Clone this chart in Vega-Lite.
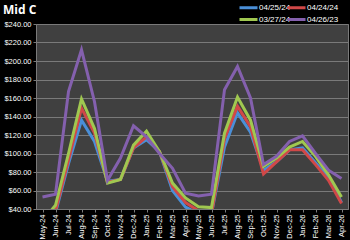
{
  "$schema": "https://vega.github.io/schema/vega-lite/v6.json",
  "width": 312,
  "height": 185,
  "autosize": {"type": "none"},
  "padding": {"left": 36, "top": 24, "right": 2, "bottom": 31},
  "background": "#000000",
  "title": {"text": "Mid C", "anchor": "start", "frame": "group", "dx": -33, "offset": 0, "dy": 15, "color": "#ffffff", "fontSize": 12, "font": "Open Sans", "fontWeight": "bold"},
  "config": {
    "view": {"fill": "#404040", "stroke": "#7a7a7a", "strokeWidth": 1},
    "axis": {"labelFont": "Liberation Sans", "labelColor": "#ffffff", "labelFontSize": 7.5, "domainColor": "#7a7a7a", "tickColor": "#7a7a7a", "gridColor": "#7a7a7a", "tickSize": 3, "labelPadding": 2, "title": null}
  },
  "data": {"values": [
    {"m":"May-24","s":"04/25/24","v":25},{"m":"Jun-24","s":"04/25/24","v":36},{"m":"Jul-24","s":"04/25/24","v":89},{"m":"Aug-24","s":"04/25/24","v":136},{"m":"Sep-24","s":"04/25/24","v":113},{"m":"Oct-24","s":"04/25/24","v":70},{"m":"Nov-24","s":"04/25/24","v":72},{"m":"Dec-24","s":"04/25/24","v":106},{"m":"Jan-25","s":"04/25/24","v":115},{"m":"Feb-25","s":"04/25/24","v":102},{"m":"Mar-25","s":"04/25/24","v":60},{"m":"Apr-25","s":"04/25/24","v":42},{"m":"May-25","s":"04/25/24","v":35},{"m":"Jun-25","s":"04/25/24","v":35},{"m":"Jul-25","s":"04/25/24","v":107},{"m":"Aug-25","s":"04/25/24","v":144},{"m":"Sep-25","s":"04/25/24","v":123},{"m":"Oct-25","s":"04/25/24","v":82},{"m":"Nov-25","s":"04/25/24","v":91},{"m":"Dec-25","s":"04/25/24","v":104},{"m":"Jan-26","s":"04/25/24","v":106},{"m":"Feb-26","s":"04/25/24","v":90},{"m":"Mar-26","s":"04/25/24","v":74},{"m":"Apr-26","s":"04/25/24","v":47},
    {"m":"May-24","s":"04/24/24","v":25},{"m":"Jun-24","s":"04/24/24","v":38},{"m":"Jul-24","s":"04/24/24","v":93},{"m":"Aug-24","s":"04/24/24","v":149},{"m":"Sep-24","s":"04/24/24","v":122},{"m":"Oct-24","s":"04/24/24","v":69},{"m":"Nov-24","s":"04/24/24","v":72},{"m":"Dec-24","s":"04/24/24","v":106},{"m":"Jan-25","s":"04/24/24","v":118},{"m":"Feb-25","s":"04/24/24","v":102},{"m":"Mar-25","s":"04/24/24","v":64},{"m":"Apr-25","s":"04/24/24","v":47},{"m":"May-25","s":"04/24/24","v":38},{"m":"Jun-25","s":"04/24/24","v":35},{"m":"Jul-25","s":"04/24/24","v":116},{"m":"Aug-25","s":"04/24/24","v":151},{"m":"Sep-25","s":"04/24/24","v":129},{"m":"Oct-25","s":"04/24/24","v":78},{"m":"Nov-25","s":"04/24/24","v":91},{"m":"Dec-25","s":"04/24/24","v":104},{"m":"Jan-26","s":"04/24/24","v":104},{"m":"Feb-26","s":"04/24/24","v":88},{"m":"Mar-26","s":"04/24/24","v":71},{"m":"Apr-26","s":"04/24/24","v":46},
    {"m":"May-24","s":"03/27/24","v":27},{"m":"Jun-24","s":"03/27/24","v":44},{"m":"Jul-24","s":"03/27/24","v":100},{"m":"Aug-24","s":"03/27/24","v":159},{"m":"Sep-24","s":"03/27/24","v":127},{"m":"Oct-24","s":"03/27/24","v":68},{"m":"Nov-24","s":"03/27/24","v":72},{"m":"Dec-24","s":"03/27/24","v":109},{"m":"Jan-25","s":"03/27/24","v":124},{"m":"Feb-25","s":"03/27/24","v":102},{"m":"Mar-25","s":"03/27/24","v":68},{"m":"Apr-25","s":"03/27/24","v":52},{"m":"May-25","s":"03/27/24","v":42.5},{"m":"Jun-25","s":"03/27/24","v":41.5},{"m":"Jul-25","s":"03/27/24","v":122},{"m":"Aug-25","s":"03/27/24","v":161},{"m":"Sep-25","s":"03/27/24","v":136},{"m":"Oct-25","s":"03/27/24","v":86},{"m":"Nov-25","s":"03/27/24","v":95},{"m":"Dec-25","s":"03/27/24","v":107},{"m":"Jan-26","s":"03/27/24","v":113},{"m":"Feb-26","s":"03/27/24","v":97},{"m":"Mar-26","s":"03/27/24","v":77},{"m":"Apr-26","s":"03/27/24","v":53},
    {"m":"May-24","s":"04/26/23","v":53},{"m":"Jun-24","s":"04/26/23","v":56},{"m":"Jul-24","s":"04/26/23","v":167},{"m":"Aug-24","s":"04/26/23","v":212},{"m":"Sep-24","s":"04/26/23","v":156},{"m":"Oct-24","s":"04/26/23","v":71},{"m":"Nov-24","s":"04/26/23","v":95},{"m":"Dec-24","s":"04/26/23","v":130},{"m":"Jan-25","s":"04/26/23","v":118},{"m":"Feb-25","s":"04/26/23","v":100},{"m":"Mar-25","s":"04/26/23","v":84},{"m":"Apr-25","s":"04/26/23","v":57},{"m":"May-25","s":"04/26/23","v":54},{"m":"Jun-25","s":"04/26/23","v":56},{"m":"Jul-25","s":"04/26/23","v":169},{"m":"Aug-25","s":"04/26/23","v":194},{"m":"Sep-25","s":"04/26/23","v":160},{"m":"Oct-25","s":"04/26/23","v":88},{"m":"Nov-25","s":"04/26/23","v":97},{"m":"Dec-25","s":"04/26/23","v":113},{"m":"Jan-26","s":"04/26/23","v":119},{"m":"Feb-26","s":"04/26/23","v":100},{"m":"Mar-26","s":"04/26/23","v":82},{"m":"Apr-26","s":"04/26/23","v":73}
  ]},
  "mark": {"type": "line", "strokeWidth": 3, "clip": true},
  "encoding": {
    "x": {"field": "m", "type": "ordinal", "sort": null, "scale": {"padding": 0.5}, "axis": {"labelAngle": -90, "grid": false}},
    "y": {"field": "v", "type": "quantitative", "scale": {"domain": [40, 240], "nice": false, "zero": false}, "axis": {"values": [40,60,80,100,120,140,160,180,200,220,240], "format": "$.2f", "grid": true, "domain": false}},
    "color": {"field": "s", "type": "nominal", "sort": ["04/25/24","04/24/24","03/27/24","04/26/23"],
      "scale": {"domain": ["04/25/24","04/24/24","03/27/24","04/26/23"], "range": ["#4a8fd8","#d04848","#a0c850","#8460ae"]},
      "legend": {"title": null, "orient": "none", "legendX": 207, "legendY": -22, "columns": 2, "direction": "horizontal", "symbolType": "M-2.25,0H2.25", "symbolSize": 64, "symbolStrokeWidth": 3, "symbolFillColor": "transparent", "labelColor": "#ffffff", "labelFont": "Liberation Sans", "labelFontSize": 8, "labelOffset": 5, "columnPadding": -14, "rowPadding": -2}},
    "order": {"field": "s"}
  }
}
